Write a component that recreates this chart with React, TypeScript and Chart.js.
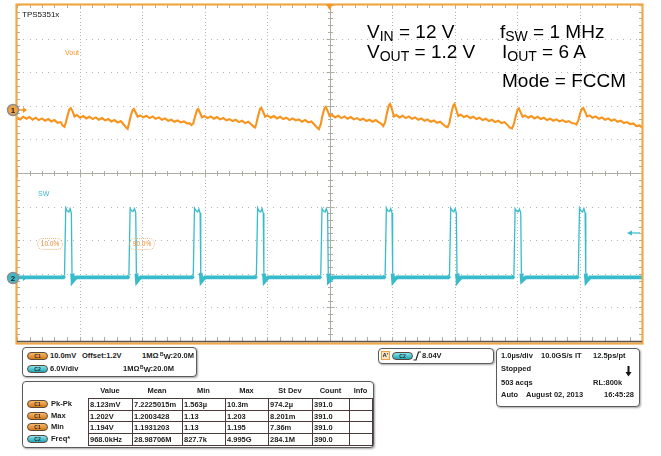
import React, { useEffect, useRef } from 'react';
import { Chart, registerables } from 'chart.js';
Chart.register(...registerables);

// ---- time base / channel setup ----
const timeMin = -5; // µs (1 µs/div, 10 div)
const timeMax = 5;
const ch1MvPerDiv = 10; // Vout: 10 mV/div, offset 1.2 V
const ch1PosDiv = 1.875;
const ch2VPerDiv = 6; // SW: 6 V/div
const ch2PosDiv = -3.125;
const trigLevelV = 8.04;

// ---- Vout (mV relative to 1.2 V offset) ----
const voutTime = [
  -5.00, -4.95, -4.90, -4.85, -4.80, -4.75, -4.70, -4.65, -4.60, -4.55, -4.50, -4.45, -4.40, -4.35, -4.30, -4.27,
  -4.24, -4.22, -4.19, -4.16, -4.14, -4.11, -4.08, -4.04, -3.99, -3.94, -3.89, -3.84, -3.79, -3.74, -3.69, -3.64, -3.59, -3.54, -3.49, -3.44, -3.39, -3.34, -3.29, -3.25, -3.23,
  -3.21, -3.18, -3.15, -3.13, -3.10, -3.07, -3.03, -2.98, -2.93, -2.88, -2.83, -2.78, -2.73, -2.68, -2.63, -2.58, -2.53, -2.48, -2.43, -2.38, -2.33, -2.28, -2.24, -2.21,
  -2.18, -2.15, -2.12, -2.10, -2.07, -2.04, -2.00, -1.95, -1.90, -1.85, -1.80, -1.75, -1.70, -1.65, -1.60, -1.55, -1.50, -1.45, -1.40, -1.35, -1.30, -1.25, -1.21, -1.19,
  -1.17, -1.14, -1.11, -1.09, -1.06, -1.03, -0.99, -0.94, -0.89, -0.84, -0.79, -0.74, -0.69, -0.64, -0.59, -0.54, -0.49, -0.44, -0.39, -0.34, -0.29, -0.24, -0.20, -0.17,
  -0.14, -0.11, -0.08, -0.06, -0.03, 0.00, 0.04, 0.09, 0.14, 0.19, 0.24, 0.29, 0.34, 0.39, 0.44, 0.49, 0.54, 0.59, 0.64, 0.69, 0.74, 0.79, 0.83, 0.86,
  0.89, 0.92, 0.95, 0.97, 1.00, 1.03, 1.07, 1.12, 1.17, 1.22, 1.27, 1.32, 1.37, 1.42, 1.47, 1.52, 1.57, 1.62, 1.67, 1.72, 1.77, 1.82, 1.86, 1.89,
  1.92, 1.95, 1.98, 2.00, 2.03, 2.06, 2.10, 2.15, 2.20, 2.25, 2.30, 2.35, 2.40, 2.45, 2.50, 2.55, 2.60, 2.65, 2.70, 2.75, 2.80, 2.85, 2.89, 2.92,
  2.95, 2.98, 3.01, 3.03, 3.06, 3.09, 3.13, 3.18, 3.23, 3.28, 3.33, 3.38, 3.43, 3.48, 3.53, 3.58, 3.63, 3.68, 3.73, 3.78, 3.83, 3.88, 3.92, 3.95,
  3.98, 4.01, 4.04, 4.06, 4.09, 4.12, 4.16, 4.21, 4.26, 4.31, 4.36, 4.41, 4.46, 4.51, 4.56, 4.61, 4.66, 4.71, 4.76, 4.81, 4.86, 4.91, 4.96, 5.00,
];
const voutMv = [
  -2.2, -2.8, -2.0, -2.6, -2.1, -2.9, -2.3, -3.0, -2.5, -3.2, -2.7, -3.4, -3.0, -3.8, -3.6, -4.6,
  -5.0, -3.8, -1.6, 0.3, 0.6, -0.4, -1.9, -1.5, -2.3, -1.8, -2.5, -2.0, -2.7, -2.2, -2.9, -2.4, -3.1, -2.7, -3.4, -3.0, -3.7, -3.3, -4.4, -5.3, -5.6,
  -4.2, -1.8, 0.0, 0.3, -0.8, -2.0, -1.6, -2.2, -1.7, -2.4, -1.9, -2.6, -2.2, -2.9, -2.5, -3.2, -2.9, -3.5, -3.1, -3.7, -3.4, -4.0, -3.9, -4.5,
  -4.0, -1.9, 0.0, 0.3, -0.9, -2.2, -1.8, -2.4, -1.9, -2.6, -2.1, -2.8, -2.4, -3.1, -2.7, -3.3, -2.9, -3.6, -3.2, -3.9, -3.5, -4.3, -5.0, -5.2,
  -4.0, -1.6, 0.4, 0.6, -0.6, -2.0, -1.6, -2.3, -1.8, -2.5, -2.0, -2.7, -2.3, -3.0, -2.5, -3.1, -2.8, -3.5, -3.0, -3.7, -3.4, -4.4, -5.2, -5.7,
  -4.2, -1.5, 0.5, 0.9, -0.3, -1.8, -1.5, -2.2, -1.7, -2.4, -1.9, -2.6, -2.1, -2.8, -2.4, -3.0, -2.6, -3.3, -2.9, -3.5, -3.0, -3.7, -4.1, -4.8,
  -3.6, -0.8, 1.4, 1.8, 0.2, -1.9, -1.5, -2.2, -1.7, -2.4, -1.9, -2.6, -2.2, -2.9, -2.5, -3.2, -2.8, -3.5, -3.1, -3.8, -3.5, -4.3, -4.9, -5.1,
  -3.8, -0.9, 1.3, 1.8, 0.0, -1.8, -1.4, -2.1, -1.7, -2.4, -2.0, -2.7, -2.3, -3.0, -2.6, -3.3, -2.9, -3.6, -3.2, -3.9, -3.6, -4.5, -5.3, -5.5,
  -4.2, -1.8, 0.2, 0.5, -0.8, -2.0, -1.6, -2.3, -1.8, -2.5, -2.0, -2.7, -2.3, -3.0, -2.6, -3.2, -2.8, -3.4, -3.0, -3.6, -3.3, -3.9, -4.0, -4.3,
  -3.2, -1.0, 0.4, 0.6, -0.5, -1.9, -1.6, -2.3, -1.9, -2.6, -2.2, -2.9, -2.5, -3.2, -2.8, -3.5, -3.2, -3.9, -3.6, -4.2, -4.0, -4.8, -4.6, -5.2,
];

// ---- SW node (V) ----
const swTime = [
  -5.00,
  -4.26, -4.24, -4.22, -4.20, -4.17, -4.15, -4.13, -4.12, -4.11, -4.08, -4.05,
  -3.23, -3.21, -3.19, -3.17, -3.14, -3.12, -3.10, -3.09, -3.08, -3.05, -3.02,
  -2.20, -2.18, -2.16, -2.14, -2.11, -2.09, -2.07, -2.06, -2.05, -2.02, -1.99,
  -1.19, -1.17, -1.15, -1.13, -1.10, -1.08, -1.06, -1.05, -1.04, -1.01, -0.98,
  -0.16, -0.14, -0.12, -0.10, -0.07, -0.05, -0.03, -0.02, -0.01, 0.02, 0.05,
  0.87, 0.89, 0.91, 0.93, 0.96, 0.98, 1.00, 1.01, 1.02, 1.05, 1.08,
  1.90, 1.92, 1.94, 1.96, 1.99, 2.01, 2.03, 2.04, 2.05, 2.08, 2.11,
  2.93, 2.95, 2.97, 2.99, 3.02, 3.04, 3.06, 3.07, 3.08, 3.11, 3.14,
  3.96, 3.98, 4.00, 4.02, 4.05, 4.07, 4.09, 4.10, 4.11, 4.14, 4.17,
  5.00,
];
const swVolts = [
  0.1,
  0.1, 0.4, 12.5, 12.0, 11.8, 12.4, 11.6, 0.8, -0.6, -0.2, 0.1,
  0.1, 0.4, 12.4, 12.0, 11.9, 12.4, 11.7, 0.8, -0.6, -0.2, 0.1,
  0.1, 0.4, 12.5, 12.1, 11.8, 12.3, 11.6, 0.9, -0.6, -0.2, 0.1,
  0.1, 0.4, 12.5, 12.0, 11.8, 12.4, 11.6, 0.8, -0.6, -0.2, 0.1,
  0.1, 0.4, 12.4, 12.0, 11.8, 12.4, 11.7, 0.8, -0.6, -0.3, 0.1,
  0.1, 0.4, 12.5, 12.0, 11.9, 12.4, 11.6, 0.8, -0.6, -0.2, 0.1,
  0.1, 0.4, 12.5, 12.1, 11.8, 12.4, 11.6, 0.8, -0.6, -0.2, 0.1,
  0.1, 0.4, 12.4, 12.0, 11.8, 12.3, 11.6, 0.8, -0.5, -0.2, 0.1,
  0.1, 0.4, 12.5, 12.0, 11.8, 12.4, 11.6, 0.8, -0.6, -0.2, 0.1,
  0.1,
];

// ---- measurement table ----
const measColumns = ['Value', 'Mean', 'Min', 'Max', 'St Dev', 'Count', 'Info'];
const measChannels = ['C1', 'C1', 'C1', 'C2'];
const measNames = ['Pk-Pk', 'Max', 'Min', 'Freq*'];
const measPkPk = ['8.123mV', '7.2225015m', '1.563µ', '10.3m', '974.2µ', '391.0', ''];
const measMax = ['1.202V', '1.2003428', '1.13', '1.203', '8.201m', '391.0', ''];
const measMin = ['1.194V', '1.1931203', '1.13', '1.195', '7.36m', '391.0', ''];
const measFreq = ['968.0kHz', '28.98706M', '827.7k', '4.995G', '284.1M', '390.0', ''];

const F = "'Liberation Sans', Arial, Helvetica, sans-serif";
const ORANGE = '#f7941e';
const CYAN = '#38bccb';
const FRAME = '#f0a846';

const drawMarker = (ctx: any, x: number, y: number, fill: string, label: string, arrowColor: string) => {
  ctx.save();
  ctx.strokeStyle = arrowColor;
  ctx.fillStyle = arrowColor;
  ctx.lineWidth = 1.5;
  ctx.beginPath();
  ctx.moveTo(x + 5, y);
  ctx.lineTo(x + 11, y);
  ctx.stroke();
  ctx.beginPath();
  ctx.moveTo(x + 14, y);
  ctx.lineTo(x + 10, y - 3);
  ctx.lineTo(x + 10, y + 3);
  ctx.closePath();
  ctx.fill();
  ctx.beginPath();
  ctx.arc(x, y, 5.5, 0, Math.PI * 2);
  ctx.fillStyle = fill;
  ctx.fill();
  ctx.lineWidth = 1.5;
  ctx.strokeStyle = '#8e8e8e';
  ctx.stroke();
  ctx.fillStyle = '#222';
  ctx.font = `bold 8px ${F}`;
  ctx.textAlign = 'center';
  ctx.textBaseline = 'middle';
  ctx.fillText(label, x, y + 0.5);
  ctx.restore();
};

const scopePlugin = {
  id: 'scopeScreen',
  beforeDatasetsDraw(chart: any) {
    const { ctx, chartArea: a, scales } = chart;
    const sx = scales.x;
    const sy = scales.yDiv;
    ctx.save();
    ctx.fillStyle = '#b4b4b4';
    for (let i = -4; i <= 4; i++) {
      if (i === 0) continue;
      const px = Math.round(sx.getPixelForValue(i));
      for (let j = -49; j <= 49; j++) {
        const py = Math.round(sy.getPixelForValue(j / 10));
        ctx.fillRect(px, py, 1, 1);
      }
    }
    for (let j = -4; j <= 4; j++) {
      if (j === 0) continue;
      const py = Math.round(sy.getPixelForValue(j));
      for (let i = -49; i <= 49; i++) {
        const px = Math.round(sx.getPixelForValue(i / 10));
        ctx.fillRect(px, py, 1, 1);
      }
    }
    ctx.strokeStyle = '#aeada2';
    ctx.lineWidth = 1;
    const cx = Math.round(sx.getPixelForValue(0)) + 0.5;
    const cy = Math.round(sy.getPixelForValue(0)) + 0.5;
    ctx.beginPath();
    ctx.moveTo(cx, a.top);
    ctx.lineTo(cx, a.bottom);
    ctx.moveTo(a.left, cy);
    ctx.lineTo(a.right, cy);
    for (let i = -25; i <= 25; i++) {
      const px = Math.round(sx.getPixelForValue(i / 5)) + 0.5;
      const len = i % 5 === 0 ? 4 : 2.5;
      ctx.moveTo(px, cy - len);
      ctx.lineTo(px, cy + len);
      ctx.moveTo(px, a.top);
      ctx.lineTo(px, a.top + 3);
      ctx.moveTo(px, a.bottom);
      ctx.lineTo(px, a.bottom - 4);
    }
    for (let j = -25; j <= 25; j++) {
      const py = Math.round(sy.getPixelForValue(j / 5)) + 0.5;
      const len = j % 5 === 0 ? 4 : 2.5;
      ctx.moveTo(cx - len, py);
      ctx.lineTo(cx + len, py);
      ctx.moveTo(a.left, py);
      ctx.lineTo(a.left + 3, py);
      ctx.moveTo(a.right, py);
      ctx.lineTo(a.right - 3, py);
    }
    ctx.stroke();
    ctx.restore();
  },
  afterDatasetsDraw(chart: any) {
    const { ctx, chartArea: a, scales } = chart;
    ctx.save();
    ctx.strokeStyle = FRAME;
    ctx.lineWidth = 2.2;
    ctx.strokeRect(a.left - 0.5, a.top - 0.5, a.right - a.left + 1, a.bottom - a.top + 3);
    ctx.strokeStyle = '#5e5852';
    ctx.lineWidth = 1.5;
    ctx.beginPath();
    ctx.moveTo(a.left, a.bottom + 0.5);
    ctx.lineTo(a.right, a.bottom + 0.5);
    ctx.stroke();
    // trigger position marker
    const tx = scales.x.getPixelForValue(0);
    ctx.fillStyle = ORANGE;
    ctx.beginPath();
    ctx.moveTo(tx - 3.5, a.top - 1);
    ctx.lineTo(tx + 3.5, a.top - 1);
    ctx.lineTo(tx, a.top + 5);
    ctx.closePath();
    ctx.fill();
    // trigger level arrow
    const ty = scales.yS.getPixelForValue(trigLevelV);
    ctx.strokeStyle = CYAN;
    ctx.fillStyle = CYAN;
    ctx.lineWidth = 1.2;
    ctx.beginPath();
    ctx.moveTo(a.right - 12, ty);
    ctx.lineTo(a.right - 2, ty);
    ctx.stroke();
    ctx.beginPath();
    ctx.moveTo(a.right - 15, ty);
    ctx.lineTo(a.right - 10, ty - 2.5);
    ctx.lineTo(a.right - 10, ty + 2.5);
    ctx.closePath();
    ctx.fill();
    ctx.restore();
    drawMarker(ctx, 13, scales.yV.getPixelForValue(0), '#f2a444', '1', ORANGE);
    drawMarker(ctx, 13, scales.yS.getPixelForValue(0), '#3cbccb', '2', CYAN);
  },
};

const txt = (size: number, bold = true): React.CSSProperties => ({
  position: 'absolute',
  font: `${bold ? 'bold ' : ''}${size}px ${F}`,
  lineHeight: `${size}px`,
  whiteSpace: 'nowrap',
  color: '#222',
});

const Sub = ({ children }: any) => (
  <span style={{ fontSize: 14, position: 'relative', top: 3 }}>{children}</span>
);

const Badge = ({ ch, left, top }: any) => (
  <div
    style={{
      position: 'absolute',
      left,
      top,
      width: 19,
      height: 6,
      borderRadius: 4,
      border: '1px solid #5a4a3a',
      background: ch === 'C1' ? 'linear-gradient(#f8b868, #d87816)' : 'linear-gradient(#86e4ee, #1ea6b6)',
      font: `bold 5px ${F}`,
      lineHeight: '6px',
      textAlign: 'center',
      color: '#2a2a2a',
    }}
  >
    {ch}
  </div>
);

const BW = () => (
  <span>
    <span style={{ fontSize: 5, position: 'relative', top: -2 }}>B</span>
    <span style={{ position: 'relative', top: 1 }}>W</span>:20.0M
  </span>
);

const boxStyle = (left: number, top: number, width: number, height: number): React.CSSProperties => ({
  position: 'absolute',
  left,
  top,
  width,
  height,
  border: '1px solid #5a5a5a',
  borderRadius: 4,
  boxShadow: '1px 1px 2px rgba(0,0,0,0.35)',
  background: '#fff',
  boxSizing: 'border-box',
});

export default function App() {
  const canvasRef = useRef<HTMLCanvasElement | null>(null);

  useEffect(() => {
    if (!canvasRef.current) return;
    const nV = Math.min(voutTime.length, voutMv.length);
    const nS = Math.min(swTime.length, swVolts.length);
    const chart = new Chart(canvasRef.current, {
      type: 'line',
      data: {
        datasets: [
          {
            label: 'Vout',
            data: voutTime.slice(0, nV).map((t, i) => ({ x: t, y: voutMv[i] })),
            xAxisID: 'x',
            yAxisID: 'yV',
            borderColor: ORANGE,
            borderWidth: 2.1,
            pointRadius: 0,
            tension: 0,
          },
          {
            label: 'SW',
            data: swTime.slice(0, nS).map((t, i) => ({ x: t, y: swVolts[i] })),
            xAxisID: 'x',
            yAxisID: 'yS',
            borderColor: CYAN,
            borderWidth: 1.3,
            pointRadius: 0,
            tension: 0,
            segment: {
              borderWidth: (c: any) => (Math.abs(c.p0.parsed.y) < 2 && Math.abs(c.p1.parsed.y) < 2 ? 3.8 : 1.3),
            },
          } as any,
        ],
      },
      options: {
        animation: false,
        responsive: false,
        maintainAspectRatio: false,
        events: [],
        layout: { padding: { left: 17, right: 19, top: 5, bottom: 4 } },
        scales: {
          x: { type: 'linear', min: timeMin, max: timeMax, display: false },
          yDiv: { type: 'linear', min: -5, max: 5, display: false },
          yV: {
            type: 'linear',
            min: (-5 - ch1PosDiv) * ch1MvPerDiv,
            max: (5 - ch1PosDiv) * ch1MvPerDiv,
            display: false,
          },
          yS: {
            type: 'linear',
            min: (-5 - ch2PosDiv) * ch2VPerDiv,
            max: (5 - ch2PosDiv) * ch2VPerDiv,
            display: false,
          },
        },
        plugins: { legend: { display: false }, tooltip: { enabled: false } },
      } as any,
      plugins: [scopePlugin],
    });
    return () => chart.destroy();
  }, []);

  const colX = [88, 132, 182, 225, 268, 312, 349, 372];
  const rowY = [398, 410, 421, 433, 445];
  const rows = [measPkPk, measMax, measMin, measFreq];

  return (
    <div style={{ position: 'absolute', left: 0, top: 0, width: 661, height: 456, background: '#fff', overflow: 'hidden' }}>
      <canvas ref={canvasRef} width={661} height={345} style={{ position: 'absolute', left: 0, top: 0 }} />

      {/* on-screen labels */}
      <div style={{ ...txt(8, false), left: 22, top: 11, color: '#111' }}>TPS5351x</div>
      <div style={{ ...txt(7, false), left: 65, top: 49, color: ORANGE }}>Vout</div>
      <div style={{ ...txt(7, false), left: 38, top: 190, color: CYAN }}>SW</div>
      {[
        { l: 37, t: '10.0%' },
        { l: 129, t: '90.0%' },
      ].map((b) => (
        <div
          key={b.t}
          style={{
            position: 'absolute',
            left: b.l,
            top: 238,
            width: 26,
            height: 12,
            border: '1.5px dotted #f7b870',
            borderRadius: 6,
            boxSizing: 'border-box',
            font: `6.5px ${F}`,
            lineHeight: '9px',
            textAlign: 'center',
            color: '#f08a30',
          }}
        >
          {b.t}
        </div>
      ))}

      {/* annotation */}
      <div style={{ ...txt(19, false), left: 367, top: 22, color: '#000' }}>
        V<Sub>IN</Sub> = 12 V
      </div>
      <div style={{ ...txt(19, false), left: 367, top: 42, color: '#000' }}>
        V<Sub>OUT</Sub> = 1.2 V
      </div>
      <div style={{ ...txt(19, false), left: 500, top: 22, color: '#000' }}>
        f<Sub>SW</Sub> = 1 MHz
      </div>
      <div style={{ ...txt(19, false), left: 502, top: 42, color: '#000' }}>
        I<Sub>OUT</Sub> = 6 A
      </div>
      <div style={{ ...txt(19, false), left: 502, top: 71, color: '#000' }}>Mode = FCCM</div>

      {/* channel box */}
      <div style={boxStyle(22, 347, 175, 30)} />
      <Badge ch="C1" left={27} top={352} />
      <div style={{ ...txt(7.5), left: 50, top: 352 }}>10.0mV</div>
      <div style={{ ...txt(7.5), left: 82, top: 352 }}>Offset:1.2V</div>
      <div style={{ ...txt(7.5), left: 142, top: 352 }}>1MΩ</div>
      <div style={{ ...txt(7.5), left: 160, top: 352 }}>
        <BW />
      </div>
      <Badge ch="C2" left={27} top={365} />
      <div style={{ ...txt(7.5), left: 50, top: 365 }}>6.0V/div</div>
      <div style={{ ...txt(7.5), left: 123, top: 365 }}>1MΩ</div>
      <div style={{ ...txt(7.5), left: 140, top: 365 }}>
        <BW />
      </div>

      {/* measurement table */}
      <div style={boxStyle(22, 381, 352, 67)} />
      {measColumns.map((c, i) => (
        <div
          key={c}
          style={{ ...txt(7.5), left: colX[i], width: colX[i + 1] - colX[i], top: 387, textAlign: 'center' }}
        >
          {c}
        </div>
      ))}
      {rows.map((r, ri) => (
        <React.Fragment key={ri}>
          <Badge ch={measChannels[ri]} left={27} top={rowY[ri] + 2} />
          <div style={{ ...txt(7.5), left: 51, top: rowY[ri] + 2 }}>{measNames[ri]}</div>
          {r.map((v, ci) => (
            <div
              key={ci}
              style={{
                position: 'absolute',
                left: colX[ci],
                top: rowY[ri],
                width: colX[ci + 1] - colX[ci] + 1,
                height: rowY[ri + 1] - rowY[ri] + 1,
                border: '1px solid #4a3a3a',
                boxSizing: 'border-box',
              }}
            >
              <div style={{ ...txt(7.5), left: 1, top: 1.5 }}>{v}</div>
            </div>
          ))}
        </React.Fragment>
      ))}

      {/* trigger box */}
      <div style={boxStyle(378, 348, 116, 16)} />
      <div
        style={{
          position: 'absolute',
          left: 381,
          top: 351,
          width: 9,
          height: 9,
          border: '1px solid #f0a040',
          background: '#fde6c8',
          boxSizing: 'border-box',
          font: `bold 6px ${F}`,
          lineHeight: '7px',
          textAlign: 'center',
          color: '#222',
        }}
      >
        A'
      </div>
      <Badge ch="C2" left={392} top={352} />
      <svg style={{ position: 'absolute', left: 413, top: 351 }} width={8} height={10}>
        <path d="M0.5 9 L3 9 L5.5 1 L8 1" stroke="#222" strokeWidth={1.2} fill="none" />
      </svg>
      <div style={{ ...txt(7.5), left: 422, top: 352 }}>8.04V</div>

      {/* timebase box */}
      <div style={boxStyle(496, 348, 144, 59)} />
      <div style={{ ...txt(7.5), left: 501, top: 352 }}>1.0µs/div</div>
      <div style={{ ...txt(7.5), left: 541, top: 352 }}>10.0GS/s</div>
      <div style={{ ...txt(7.5), left: 575, top: 352 }}>IT</div>
      <div style={{ ...txt(7.5), left: 593, top: 352 }}>12.5ps/pt</div>
      <div style={{ ...txt(7.5), left: 501, top: 365 }}>Stopped</div>
      <svg style={{ position: 'absolute', left: 625, top: 366 }} width={7} height={11}>
        <path d="M3.5 0 L3.5 7" stroke="#111" strokeWidth={2} />
        <path d="M0.5 6 L6.5 6 L3.5 10.5 Z" fill="#111" />
      </svg>
      <div style={{ ...txt(7.5), left: 501, top: 379 }}>503 acqs</div>
      <div style={{ ...txt(7.5), left: 593, top: 379 }}>RL:800k</div>
      <div style={{ ...txt(7.5), left: 501, top: 391 }}>Auto</div>
      <div style={{ ...txt(7.5), left: 526, top: 391 }}>August 02, 2013</div>
      <div style={{ ...txt(7.5), left: 604, top: 391 }}>16:45:28</div>
    </div>
  );
}
